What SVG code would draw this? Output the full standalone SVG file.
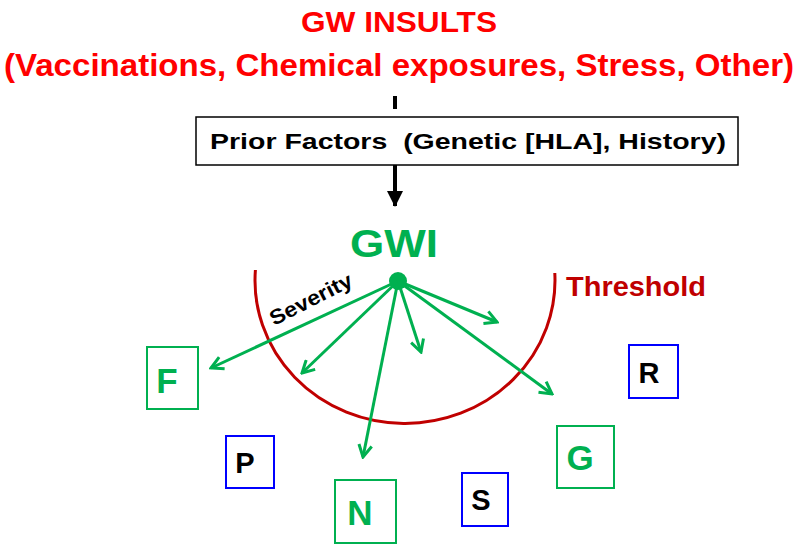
<svg xmlns="http://www.w3.org/2000/svg" width="800" height="550" viewBox="0 0 800 550">
<style>
text{font-family:"Liberation Sans",Arial,sans-serif;font-weight:bold}
.red{fill:#FF0000;font-size:30px}
.gbox{fill:#fff;stroke:#00B050;stroke-width:2}
.bbox{fill:#fff;stroke:#0000FF;stroke-width:2}
.gl{fill:#00B050;font-size:35px;text-anchor:middle}
.bl{fill:#000;font-size:29px;text-anchor:middle}
.arr{stroke:#00B050;stroke-width:3;fill:none;marker-end:url(#ga)}
</style>
<defs>
<marker id="ga" viewBox="0 0 16 16" refX="14" refY="8" markerWidth="16" markerHeight="16" markerUnits="userSpaceOnUse" orient="auto">
<path d="M2,1.5 L14,8 L2,14.5" fill="none" stroke="#00B050" stroke-width="3" stroke-linejoin="miter"/>
</marker>
<marker id="ba" viewBox="0 0 16 16" refX="15" refY="8" markerWidth="16" markerHeight="16" markerUnits="userSpaceOnUse" orient="auto">
<path d="M0,0 L16,8 L0,16 Z" fill="#000"/>
</marker>
</defs>
<g id="title">
<text class="red" x="399" y="32" text-anchor="middle" textLength="196" lengthAdjust="spacingAndGlyphs">GW INSULTS</text>
<text class="red" x="399" y="76" text-anchor="middle" textLength="790" lengthAdjust="spacingAndGlyphs" style="font-size:32px">(Vaccinations, Chemical exposures, Stress, Other)</text>
</g>
<g id="prior">
<rect x="196" y="117" width="542" height="48" fill="#fff" stroke="#000" stroke-width="1.5"/>
<text x="210" y="149" font-size="22" textLength="516" lengthAdjust="spacingAndGlyphs" fill="#000" xml:space="preserve" style="white-space:pre">Prior Factors  (Genetic [HLA], History)</text>
</g>
<g id="gwi">
<text x="394" y="257" font-size="39" fill="#00B050" text-anchor="middle" textLength="88" lengthAdjust="spacingAndGlyphs">GWI</text>
<circle cx="398" cy="281" r="9" fill="#00B050"/>
</g>
<g id="threshold">
<path d="M255.4,270 A150,143 0 1 0 554.8,273" fill="none" stroke="#C00000" stroke-width="3"/>
<text x="566" y="296" font-size="27" fill="#C00000" textLength="140" lengthAdjust="spacingAndGlyphs">Threshold</text>
</g>
<g id="severity">
<text x="274" y="326" font-size="21" fill="#000" transform="rotate(-27 274 326)" textLength="90" lengthAdjust="spacingAndGlyphs">Severity</text>
</g>
<g id="connectors">
<line x1="395" y1="96" x2="395" y2="109" stroke="#000" stroke-width="4"/>
<line x1="395" y1="165" x2="395" y2="206" stroke="#000" stroke-width="4" marker-end="url(#ba)"/>
<line class="arr" x1="398" y1="281" x2="211" y2="368"/>
<line class="arr" x1="398" y1="281" x2="302" y2="373"/>
<line class="arr" x1="398" y1="281" x2="363" y2="457"/>
<line class="arr" x1="398" y1="281" x2="421" y2="352"/>
<line class="arr" x1="398" y1="281" x2="497" y2="322"/>
<line class="arr" x1="398" y1="281" x2="552" y2="394"/>
</g>
<g id="F"><rect class="gbox" x="147" y="347" width="51" height="62"/><text class="gl" x="167" y="393">F</text></g>
<g id="P"><rect class="bbox" x="226" y="436" width="48" height="52"/><text class="bl" x="245" y="473">P</text></g>
<g id="N"><rect class="gbox" x="335" y="480" width="61" height="63"/><text class="gl" x="360" y="525">N</text></g>
<g id="S"><rect class="bbox" x="462" y="473" width="46" height="53"/><text class="bl" x="481" y="510">S</text></g>
<g id="G"><rect class="gbox" x="557" y="426" width="57" height="62"/><text class="gl" x="580" y="470">G</text></g>
<g id="R"><rect class="bbox" x="629" y="345" width="49" height="53"/><text class="bl" x="649" y="383">R</text></g>
</svg>
